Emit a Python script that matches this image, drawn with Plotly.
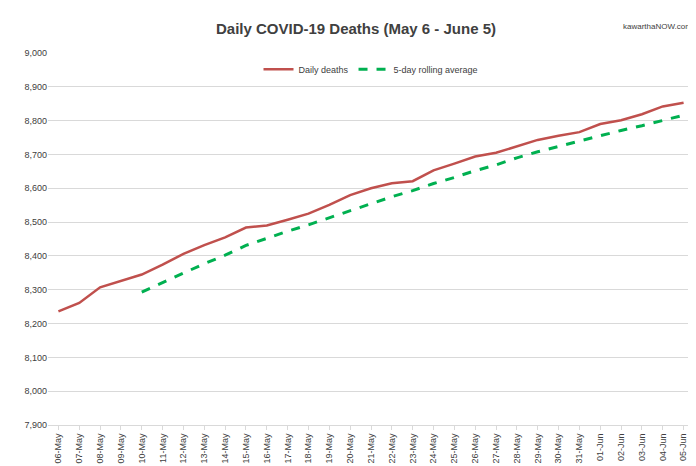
import plotly.graph_objects as go

dates = ["06-May", "07-May", "08-May", "09-May", "10-May", "11-May", "12-May", "13-May",
         "14-May", "15-May", "16-May", "17-May", "18-May", "19-May", "20-May", "21-May",
         "22-May", "23-May", "24-May", "25-May", "26-May", "27-May", "28-May", "29-May",
         "30-May", "31-May", "01-Jun", "02-Jun", "03-Jun", "04-Jun", "05-Jun"]

daily_deaths = [8236, 8261, 8307, 8327, 8345, 8374, 8406, 8432, 8455, 8484, 8490, 8507,
                8525, 8551, 8580, 8600, 8615, 8621, 8653, 8673, 8694, 8705, 8723, 8743,
                8755, 8766, 8790, 8801, 8819, 8842, 8853]

rolling_avg = [None, None, None, None, 8293, 8322, 8349, 8377, 8402, 8431, 8453, 8473,
               8492, 8513, 8532, 8553, 8575, 8593, 8614, 8632, 8652, 8669, 8690, 8708,
               8724, 8739, 8755, 8771, 8785, 8800, 8816]

fig = go.Figure()
fig.add_trace(go.Scatter(x=dates, y=daily_deaths, mode="lines", name="Daily deaths",
                         line=dict(color="#c0504d", width=2.5)))
fig.add_trace(go.Scatter(x=dates, y=rolling_avg, mode="lines", name="5-day rolling average",
                         line=dict(color="#00b050", width=3, dash="dash")))

fig.update_layout(
    width=696, height=466,
    paper_bgcolor="white", plot_bgcolor="white",
    font=dict(family="Liberation Sans, Arial", size=9, color="#404040"),
    title=dict(text="<b>Daily COVID-19 Deaths (May 6 - June 5)</b>", x=0.5, xanchor="center",
               y=0.955, yanchor="middle", font=dict(size=15, color="#404040")),
    legend=dict(orientation="h", x=0.5, xanchor="center", y=0.995, yanchor="top",
                font=dict(size=9), bgcolor="rgba(0,0,0,0)"),
    margin=dict(l=40, r=10, t=45, b=43),
    xaxis=dict(tickangle=-90, showgrid=False, showline=True, linecolor="#d9d9d9",
               ticks="outside", tickcolor="#d9d9d9", ticklen=4,
               range=[-0.5, len(dates) - 0.5]),
    yaxis=dict(range=[7900, 9000], dtick=100, tickformat=",", showgrid=True,
               gridcolor="#d9d9d9", zeroline=False, showline=False),
    annotations=[dict(text="kawarthaNOW.com", xref="paper", yref="paper", x=1.0, y=1.09,
                      showarrow=False, xanchor="right", font=dict(size=8, color="#404040"))],
)

fig.write_html("out.html")
